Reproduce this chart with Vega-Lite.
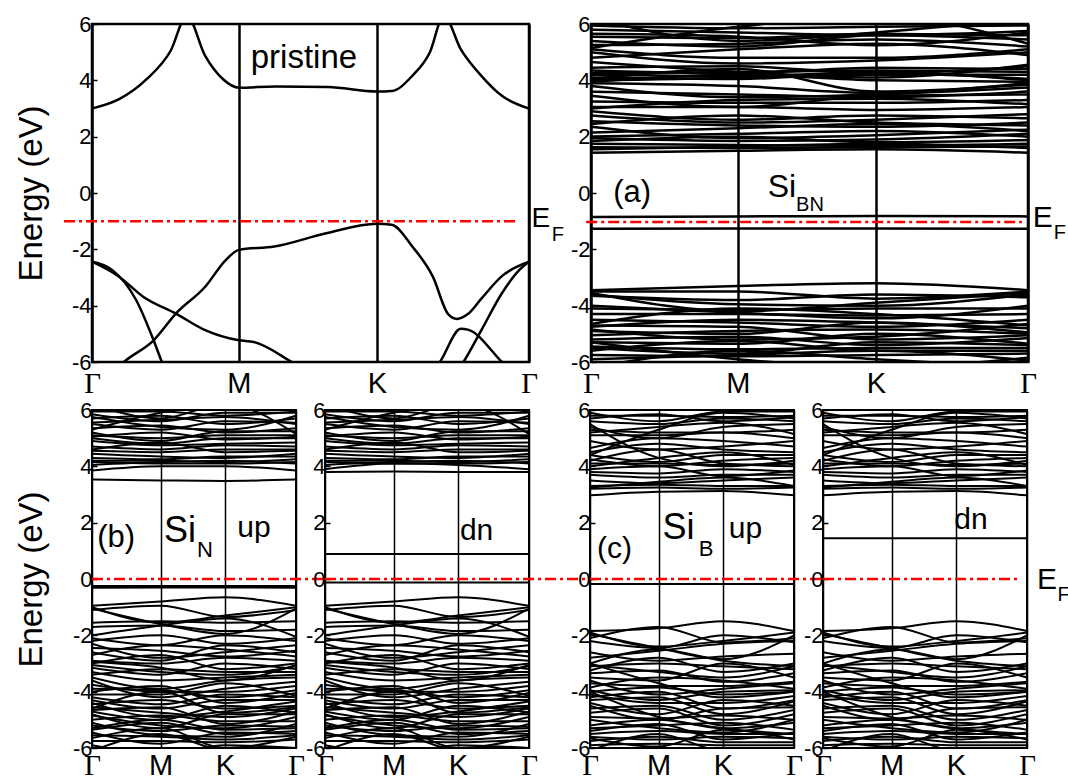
{
"$schema":"https://vega.github.io/schema/vega-lite/v6.json",
"background":"white",
"padding":{"left":14,"top":11,"right":0,"bottom":0},
"config":{"font":"Liberation Sans","view":{"stroke":"black","strokeWidth":2.5},"axis":{"labelFont":"Liberation Sans","titleFont":"Liberation Sans"}},
"datasets":{
"pr":[
{"b":"c","k":0,"e":3.0},{"b":"c","k":0.062,"e":3.33},{"b":"c","k":0.125,"e":4.04},{"b":"c","k":0.18,"e":5.05},{"b":"c","k":0.217,"e":6.3},{"b":"c","k":0.259,"e":4.87},{"b":"c","k":0.3,"e":4.04},{"b":"c","k":0.336,"e":3.74},{"b":"c","k":0.42,"e":3.78},{"b":"c","k":0.54,"e":3.76},{"b":"c","k":0.652,"e":3.6},{"b":"c","k":0.686,"e":3.62},{"b":"c","k":0.733,"e":4.16},{"b":"c","k":0.773,"e":4.99},{"b":"c","k":0.805,"e":6.3},{"b":"c","k":0.844,"e":5.1},{"b":"c","k":0.891,"e":4.16},{"b":"c","k":0.938,"e":3.45},{"b":"c","k":1,"e":3.0},
{"b":"v1","k":0,"e":-7.2},{"b":"v1","k":0.073,"e":-6},{"b":"v1","k":0.141,"e":-5.23},{"b":"v1","k":0.192,"e":-4.28},{"b":"v1","k":0.259,"e":-3.33},{"b":"v1","k":0.306,"e":-2.38},{"b":"v1","k":0.336,"e":-2.02},{"b":"v1","k":0.417,"e":-1.9},{"b":"v1","k":0.536,"e":-1.43},{"b":"v1","k":0.652,"e":-1.09},{"b":"v1","k":0.686,"e":-1.13},{"b":"v1","k":0.733,"e":-1.9},{"b":"v1","k":0.78,"e":-2.97},{"b":"v1","k":0.815,"e":-4.3},{"b":"v1","k":0.835,"e":-4.47},{"b":"v1","k":0.86,"e":-4.3},{"b":"v1","k":0.891,"e":-3.75},{"b":"v1","k":0.938,"e":-2.95},{"b":"v1","k":1,"e":-2.44},
{"b":"v2","k":0,"e":-2.44},{"b":"v2","k":0.062,"e":-2.97},{"b":"v2","k":0.117,"e":-3.68},{"b":"v2","k":0.192,"e":-4.28},{"b":"v2","k":0.259,"e":-4.87},{"b":"v2","k":0.336,"e":-5.23},{"b":"v2","k":0.37,"e":-5.29},{"b":"v2","k":0.457,"e":-6},{"b":"v2","k":0.52,"e":-6.6},
{"b":"v3","k":0,"e":-2.44},{"b":"v3","k":0.046,"e":-2.73},{"b":"v3","k":0.101,"e":-3.8},{"b":"v3","k":0.141,"e":-5.23},{"b":"v3","k":0.16,"e":-6},{"b":"v3","k":0.18,"e":-6.7},
{"b":"vB","k":0.75,"e":-6.8},{"b":"vB","k":0.796,"e":-6},{"b":"vB","k":0.844,"e":-4.82},{"b":"vB","k":0.86,"e":-4.85},{"b":"vB","k":0.938,"e":-6},{"b":"vB","k":0.97,"e":-6.5},
{"b":"vC","k":0.81,"e":-6.8},{"b":"vC","k":0.85,"e":-6},{"b":"vC","k":0.891,"e":-4.87},{"b":"vC","k":0.938,"e":-3.56},{"b":"vC","k":0.978,"e":-2.73},{"b":"vC","k":1,"e":-2.44}
],
"a":[
{"b":1,"k":0,"e":1.43},{"b":1,"k":0.336,"e":1.5},{"b":1,"k":0.652,"e":1.55},{"b":1,"k":1,"e":1.43},
{"b":2,"k":0,"e":1.62},{"b":2,"k":0.336,"e":1.6},{"b":2,"k":0.652,"e":1.62},{"b":2,"k":1,"e":1.65},
{"b":3,"k":0,"e":1.75},{"b":3,"k":0.336,"e":1.7},{"b":3,"k":0.652,"e":1.68},{"b":3,"k":1,"e":1.75},
{"b":4,"k":0,"e":1.85},{"b":4,"k":0.336,"e":2.0},{"b":4,"k":0.652,"e":1.8},{"b":4,"k":1,"e":1.88},
{"b":5,"k":0,"e":2.0},{"b":5,"k":0.336,"e":2.1},{"b":5,"k":0.652,"e":2.2},{"b":5,"k":1,"e":2.0},
{"b":6,"k":0,"e":2.35},{"b":6,"k":0.336,"e":1.95},{"b":6,"k":0.652,"e":2.05},{"b":6,"k":1,"e":2.25},
{"b":7,"k":0,"e":2.55},{"b":7,"k":0.336,"e":2.4},{"b":7,"k":0.652,"e":2.35},{"b":7,"k":1,"e":2.5},
{"b":8,"k":0,"e":2.75},{"b":8,"k":0.336,"e":2.5},{"b":8,"k":0.652,"e":2.6},{"b":8,"k":1,"e":2.8},
{"b":9,"k":0,"e":2.9},{"b":9,"k":0.336,"e":2.6},{"b":9,"k":0.652,"e":2.75},{"b":9,"k":1,"e":2.65},
{"b":10,"k":0,"e":3.05},{"b":10,"k":0.336,"e":3.05},{"b":10,"k":0.652,"e":2.95},{"b":10,"k":1,"e":3.05},
{"b":11,"k":0,"e":3.25},{"b":11,"k":0.336,"e":3.2},{"b":11,"k":0.652,"e":3.2},{"b":11,"k":1,"e":3.3},
{"b":12,"k":0,"e":3.45},{"b":12,"k":0.336,"e":3.05},{"b":12,"k":0.652,"e":3.45},{"b":12,"k":1,"e":3.5},
{"b":13,"k":0,"e":3.8},{"b":13,"k":0.336,"e":3.4},{"b":13,"k":0.652,"e":3.5},{"b":13,"k":1,"e":3.75},
{"b":14,"k":0,"e":3.9},{"b":14,"k":0.336,"e":3.8},{"b":14,"k":0.652,"e":3.55},{"b":14,"k":1,"e":3.9},
{"b":15,"k":0,"e":4.0},{"b":15,"k":0.336,"e":4.1},{"b":15,"k":0.652,"e":4.3},{"b":15,"k":1,"e":4.0},
{"b":16,"k":0,"e":4.1},{"b":16,"k":0.336,"e":4.05},{"b":16,"k":0.652,"e":4.25},{"b":16,"k":1,"e":4.05},
{"b":17,"k":0,"e":4.2},{"b":17,"k":0.336,"e":4.15},{"b":17,"k":0.652,"e":4.2},{"b":17,"k":1,"e":4.2},
{"b":18,"k":0,"e":4.35},{"b":18,"k":0.336,"e":4.25},{"b":18,"k":0.652,"e":4.45},{"b":18,"k":1,"e":4.4},
{"b":19,"k":0,"e":4.05},{"b":19,"k":0.336,"e":4.4},{"b":19,"k":0.652,"e":3.6},{"b":19,"k":1,"e":3.85},
{"b":20,"k":0,"e":4.65},{"b":20,"k":0.336,"e":4.3},{"b":20,"k":0.652,"e":4.1},{"b":20,"k":1,"e":4.55},
{"b":21,"k":0,"e":5.0},{"b":21,"k":0.336,"e":4.6},{"b":21,"k":0.652,"e":4.7},{"b":21,"k":1,"e":5.0},
{"b":22,"k":0,"e":5.1},{"b":22,"k":0.336,"e":4.8},{"b":22,"k":0.652,"e":4.8},{"b":22,"k":1,"e":5.1},
{"b":23,"k":0,"e":5.25},{"b":23,"k":0.336,"e":5.3},{"b":23,"k":0.652,"e":5.45},{"b":23,"k":1,"e":5.2},
{"b":24,"k":0,"e":5.4},{"b":24,"k":0.336,"e":5.2},{"b":24,"k":0.652,"e":5.6},{"b":24,"k":1,"e":5.45},
{"b":25,"k":0,"e":5.55},{"b":25,"k":0.336,"e":5.5},{"b":25,"k":0.652,"e":5.65},{"b":25,"k":1,"e":5.6},
{"b":26,"k":0,"e":5.8},{"b":26,"k":0.336,"e":5.7},{"b":26,"k":0.652,"e":5.6},{"b":26,"k":1,"e":5.75},
{"b":27,"k":0,"e":5.95},{"b":27,"k":0.336,"e":5.85},{"b":27,"k":0.652,"e":5.9},{"b":27,"k":1,"e":5.95},
{"b":28,"k":0,"e":5.15},{"b":28,"k":0.336,"e":5.9},{"b":28,"k":0.652,"e":6.3},{"b":28,"k":1,"e":5.3},
{"b":29,"k":0,"e":6.2},{"b":29,"k":0.336,"e":5.4},{"b":29,"k":0.652,"e":5.7},{"b":29,"k":1,"e":6.2},
{"b":30,"k":0,"e":-0.85},{"b":30,"k":0.336,"e":-0.83},{"b":30,"k":0.652,"e":-0.82},{"b":30,"k":1,"e":-0.83},
{"b":31,"k":0,"e":-1.27},{"b":31,"k":0.336,"e":-1.26},{"b":31,"k":0.652,"e":-1.26},{"b":31,"k":1,"e":-1.27},
{"b":32,"k":0,"e":-3.45},{"b":32,"k":0.336,"e":-3.3},{"b":32,"k":0.652,"e":-3.2},{"b":32,"k":1,"e":-3.45},
{"b":33,"k":0,"e":-3.5},{"b":33,"k":0.336,"e":-3.5},{"b":33,"k":0.652,"e":-3.75},{"b":33,"k":1,"e":-3.5},
{"b":34,"k":0,"e":-3.55},{"b":34,"k":0.336,"e":-4.2},{"b":34,"k":0.652,"e":-3.9},{"b":34,"k":1,"e":-3.55},
{"b":35,"k":0,"e":-3.6},{"b":35,"k":0.336,"e":-3.95},{"b":35,"k":0.652,"e":-4.0},{"b":35,"k":1,"e":-3.6},
{"b":36,"k":0,"e":-4.1},{"b":36,"k":0.336,"e":-4.15},{"b":36,"k":0.652,"e":-4.1},{"b":36,"k":1,"e":-4.1},
{"b":37,"k":0,"e":-4.3},{"b":37,"k":0.336,"e":-4.3},{"b":37,"k":0.652,"e":-4.35},{"b":37,"k":1,"e":-4.3},
{"b":38,"k":0,"e":-4.65},{"b":38,"k":0.336,"e":-4.1},{"b":38,"k":0.652,"e":-4.3},{"b":38,"k":1,"e":-4.7},
{"b":39,"k":0,"e":-4.75},{"b":39,"k":0.336,"e":-4.5},{"b":39,"k":0.652,"e":-4.6},{"b":39,"k":1,"e":-4.8},
{"b":40,"k":0,"e":-4.9},{"b":40,"k":0.336,"e":-5.0},{"b":40,"k":0.652,"e":-4.6},{"b":40,"k":1,"e":-4.95},
{"b":41,"k":0,"e":-4.85},{"b":41,"k":0.336,"e":-5.2},{"b":41,"k":0.652,"e":-5.1},{"b":41,"k":1,"e":-4.65},
{"b":42,"k":0,"e":-5.2},{"b":42,"k":0.336,"e":-5.1},{"b":42,"k":0.652,"e":-5.4},{"b":42,"k":1,"e":-5.15},
{"b":43,"k":0,"e":-5.3},{"b":43,"k":0.336,"e":-5.35},{"b":43,"k":0.652,"e":-5.0},{"b":43,"k":1,"e":-5.35},
{"b":44,"k":0,"e":-5.45},{"b":44,"k":0.336,"e":-5.55},{"b":44,"k":0.652,"e":-5.5},{"b":44,"k":1,"e":-5.5},
{"b":45,"k":0,"e":-5.6},{"b":45,"k":0.336,"e":-5.25},{"b":45,"k":0.652,"e":-5.6},{"b":45,"k":1,"e":-5.6},
{"b":46,"k":0,"e":-5.75},{"b":46,"k":0.336,"e":-5.8},{"b":46,"k":0.652,"e":-5.75},{"b":46,"k":1,"e":-5.7},
{"b":47,"k":0,"e":-5.3},{"b":47,"k":0.336,"e":-5.9},{"b":47,"k":0.652,"e":-6.2},{"b":47,"k":1,"e":-5.85},
{"b":48,"k":0,"e":-6.2},{"b":48,"k":0.336,"e":-5.6},{"b":48,"k":0.652,"e":-5.9},{"b":48,"k":1,"e":-6.2},
{"b":49,"k":0,"e":-4.7},{"b":49,"k":0.336,"e":-4.75},{"b":49,"k":0.652,"e":-5.2},{"b":49,"k":1,"e":-5.05},
{"b":50,"k":0,"e":1.55},{"b":50,"k":0.336,"e":1.65},{"b":50,"k":0.652,"e":1.75},{"b":50,"k":1,"e":1.6},
{"b":51,"k":0,"e":1.95},{"b":51,"k":0.336,"e":1.85},{"b":51,"k":0.652,"e":1.9},{"b":51,"k":1,"e":2.1},
{"b":52,"k":0,"e":2.15},{"b":52,"k":0.336,"e":2.3},{"b":52,"k":0.652,"e":2.45},{"b":52,"k":1,"e":2.2},
{"b":53,"k":0,"e":2.45},{"b":53,"k":0.336,"e":2.75},{"b":53,"k":0.652,"e":2.5},{"b":53,"k":1,"e":2.4},
{"b":54,"k":0,"e":3.0},{"b":54,"k":0.336,"e":3.3},{"b":54,"k":0.652,"e":3.35},{"b":54,"k":1,"e":3.15},
{"b":55,"k":0,"e":3.6},{"b":55,"k":0.336,"e":3.5},{"b":55,"k":0.652,"e":3.4},{"b":55,"k":1,"e":3.6},
{"b":56,"k":0,"e":3.95},{"b":56,"k":0.336,"e":4.2},{"b":56,"k":0.652,"e":4.0},{"b":56,"k":1,"e":3.95},
{"b":57,"k":0,"e":4.25},{"b":57,"k":0.336,"e":4.3},{"b":57,"k":0.652,"e":4.35},{"b":57,"k":1,"e":4.3},
{"b":58,"k":0,"e":4.45},{"b":58,"k":0.336,"e":4.5},{"b":58,"k":0.652,"e":4.25},{"b":58,"k":1,"e":4.5},
{"b":59,"k":0,"e":4.8},{"b":59,"k":0.336,"e":5.1},{"b":59,"k":0.652,"e":5.3},{"b":59,"k":1,"e":4.9},
{"b":60,"k":0,"e":5.65},{"b":60,"k":0.336,"e":5.55},{"b":60,"k":0.652,"e":5.25},{"b":60,"k":1,"e":5.7},
{"b":61,"k":0,"e":-3.65},{"b":61,"k":0.336,"e":-3.8},{"b":61,"k":0.652,"e":-3.6},{"b":61,"k":1,"e":-3.7},
{"b":62,"k":0,"e":-4.0},{"b":62,"k":0.336,"e":-4.25},{"b":62,"k":0.652,"e":-4.45},{"b":62,"k":1,"e":-4.0},
{"b":63,"k":0,"e":-4.5},{"b":63,"k":0.336,"e":-4.6},{"b":63,"k":0.652,"e":-4.75},{"b":63,"k":1,"e":-4.5},
{"b":64,"k":0,"e":-5.05},{"b":64,"k":0.336,"e":-4.9},{"b":64,"k":0.652,"e":-4.85},{"b":64,"k":1,"e":-5.0},
{"b":65,"k":0,"e":-5.5},{"b":65,"k":0.336,"e":-5.7},{"b":65,"k":0.652,"e":-5.3},{"b":65,"k":1,"e":-5.4},
{"b":66,"k":0,"e":-5.9},{"b":66,"k":0.336,"e":-5.75},{"b":66,"k":0.652,"e":-5.6},{"b":66,"k":1,"e":-5.95}
],
"bn":[
{"b":1,"k":0,"e":-0.95},{"b":1,"k":0.336,"e":-0.8},{"b":1,"k":0.652,"e":-0.65},{"b":1,"k":1,"e":-0.95},
{"b":2,"k":0,"e":-1.0},{"b":2,"k":0.336,"e":-1.55},{"b":2,"k":0.652,"e":-1.3},{"b":2,"k":1,"e":-1.0},
{"b":3,"k":0,"e":-1.05},{"b":3,"k":0.336,"e":-1.6},{"b":3,"k":0.652,"e":-1.95},{"b":3,"k":1,"e":-1.05},
{"b":4,"k":0,"e":-1.55},{"b":4,"k":0.336,"e":-1.5},{"b":4,"k":0.652,"e":-1.55},{"b":4,"k":1,"e":-1.5},
{"b":5,"k":0,"e":-1.7},{"b":5,"k":0.336,"e":-1.65},{"b":5,"k":0.652,"e":-1.85},{"b":5,"k":1,"e":-1.8},
{"b":6,"k":0,"e":-2.0},{"b":6,"k":0.336,"e":-1.65},{"b":6,"k":0.652,"e":-1.4},{"b":6,"k":1,"e":-2.05},
{"b":7,"k":0,"e":-2.1},{"b":7,"k":0.336,"e":-2.35},{"b":7,"k":0.652,"e":-2.0},{"b":7,"k":1,"e":-2.2},
{"b":8,"k":0,"e":-2.3},{"b":8,"k":0.336,"e":-2.8},{"b":8,"k":0.652,"e":-2.6},{"b":8,"k":1,"e":-2.35},
{"b":9,"k":0,"e":-2.7},{"b":9,"k":0.336,"e":-2.35},{"b":9,"k":0.652,"e":-2.5},{"b":9,"k":1,"e":-2.75},
{"b":10,"k":0,"e":-2.9},{"b":10,"k":0.336,"e":-3.0},{"b":10,"k":0.652,"e":-2.8},{"b":10,"k":1,"e":-2.9},
{"b":11,"k":0,"e":-3.0},{"b":11,"k":0.336,"e":-2.7},{"b":11,"k":0.652,"e":-3.2},{"b":11,"k":1,"e":-3.0},
{"b":12,"k":0,"e":-3.15},{"b":12,"k":0.336,"e":-3.4},{"b":12,"k":0.652,"e":-3.0},{"b":12,"k":1,"e":-3.2},
{"b":13,"k":0,"e":-3.3},{"b":13,"k":0.336,"e":-3.6},{"b":13,"k":0.652,"e":-3.5},{"b":13,"k":1,"e":-3.4},
{"b":14,"k":0,"e":-3.5},{"b":14,"k":0.336,"e":-3.9},{"b":14,"k":0.652,"e":-3.6},{"b":14,"k":1,"e":-3.5},
{"b":15,"k":0,"e":-3.75},{"b":15,"k":0.336,"e":-4.0},{"b":15,"k":0.652,"e":-4.0},{"b":15,"k":1,"e":-3.8},
{"b":16,"k":0,"e":-3.9},{"b":16,"k":0.336,"e":-3.95},{"b":16,"k":0.652,"e":-4.2},{"b":16,"k":1,"e":-3.95},
{"b":17,"k":0,"e":-4.1},{"b":17,"k":0.336,"e":-4.1},{"b":17,"k":0.652,"e":-3.7},{"b":17,"k":1,"e":-4.15},
{"b":18,"k":0,"e":-4.3},{"b":18,"k":0.336,"e":-4.6},{"b":18,"k":0.652,"e":-4.3},{"b":18,"k":1,"e":-4.3},
{"b":19,"k":0,"e":-4.45},{"b":19,"k":0.336,"e":-4.3},{"b":19,"k":0.652,"e":-4.6},{"b":19,"k":1,"e":-4.5},
{"b":20,"k":0,"e":-4.55},{"b":20,"k":0.336,"e":-4.75},{"b":20,"k":0.652,"e":-4.9},{"b":20,"k":1,"e":-4.6},
{"b":21,"k":0,"e":-4.7},{"b":21,"k":0.336,"e":-5.0},{"b":21,"k":0.652,"e":-4.5},{"b":21,"k":1,"e":-4.75},
{"b":22,"k":0,"e":-4.85},{"b":22,"k":0.336,"e":-5.2},{"b":22,"k":0.652,"e":-5.3},{"b":22,"k":1,"e":-4.9},
{"b":23,"k":0,"e":-5.0},{"b":23,"k":0.336,"e":-4.85},{"b":23,"k":0.652,"e":-5.05},{"b":23,"k":1,"e":-5.05},
{"b":24,"k":0,"e":-5.2},{"b":24,"k":0.336,"e":-5.4},{"b":24,"k":0.652,"e":-5.2},{"b":24,"k":1,"e":-5.25},
{"b":25,"k":0,"e":-5.35},{"b":25,"k":0.336,"e":-5.1},{"b":25,"k":0.652,"e":-5.5},{"b":25,"k":1,"e":-5.4},
{"b":26,"k":0,"e":-5.55},{"b":26,"k":0.336,"e":-5.6},{"b":26,"k":0.652,"e":-5.7},{"b":26,"k":1,"e":-5.55},
{"b":27,"k":0,"e":-5.75},{"b":27,"k":0.336,"e":-5.75},{"b":27,"k":0.652,"e":-5.8},{"b":27,"k":1,"e":-5.7},
{"b":28,"k":0,"e":-5.9},{"b":28,"k":0.336,"e":-6.2},{"b":28,"k":0.652,"e":-5.9},{"b":28,"k":1,"e":-6.0},
{"b":29,"k":0,"e":-6.1},{"b":29,"k":0.336,"e":-5.5},{"b":29,"k":0.652,"e":-6.1},{"b":29,"k":1,"e":-6.2},
{"b":30,"k":0,"e":-2.45},{"b":30,"k":0.336,"e":-2.55},{"b":30,"k":0.652,"e":-2.75},{"b":30,"k":1,"e":-2.55},
{"b":31,"k":0,"e":-3.05},{"b":31,"k":0.336,"e":-3.3},{"b":31,"k":0.652,"e":-3.4},{"b":31,"k":1,"e":-3.1},
{"b":32,"k":0,"e":-4.6},{"b":32,"k":0.336,"e":-4.0},{"b":32,"k":0.652,"e":-4.75},{"b":32,"k":1,"e":-4.55},
{"b":33,"k":0,"e":4.15},{"b":33,"k":0.336,"e":4.1},{"b":33,"k":0.652,"e":4.1},{"b":33,"k":1,"e":4.15},
{"b":34,"k":0,"e":4.2},{"b":34,"k":0.336,"e":4.2},{"b":34,"k":0.652,"e":4.15},{"b":34,"k":1,"e":4.25},
{"b":35,"k":0,"e":4.3},{"b":35,"k":0.336,"e":4.25},{"b":35,"k":0.652,"e":4.35},{"b":35,"k":1,"e":4.35},
{"b":36,"k":0,"e":4.45},{"b":36,"k":0.336,"e":4.35},{"b":36,"k":0.652,"e":4.3},{"b":36,"k":1,"e":4.45},
{"b":37,"k":0,"e":4.55},{"b":37,"k":0.336,"e":4.5},{"b":37,"k":0.652,"e":4.6},{"b":37,"k":1,"e":4.6},
{"b":38,"k":0,"e":4.7},{"b":38,"k":0.336,"e":4.6},{"b":38,"k":0.652,"e":4.75},{"b":38,"k":1,"e":4.7},
{"b":39,"k":0,"e":4.9},{"b":39,"k":0.336,"e":4.75},{"b":39,"k":0.652,"e":4.8},{"b":39,"k":1,"e":4.85},
{"b":40,"k":0,"e":5.0},{"b":40,"k":0.336,"e":4.8},{"b":40,"k":0.652,"e":5.0},{"b":40,"k":1,"e":5.0},
{"b":41,"k":0,"e":5.1},{"b":41,"k":0.336,"e":5.0},{"b":41,"k":0.652,"e":5.1},{"b":41,"k":1,"e":5.1},
{"b":42,"k":0,"e":5.2},{"b":42,"k":0.336,"e":4.9},{"b":42,"k":0.652,"e":5.25},{"b":42,"k":1,"e":5.25},
{"b":43,"k":0,"e":5.35},{"b":43,"k":0.336,"e":5.45},{"b":43,"k":0.652,"e":5.2},{"b":43,"k":1,"e":5.35},
{"b":44,"k":0,"e":5.5},{"b":44,"k":0.336,"e":5.3},{"b":44,"k":0.652,"e":5.6},{"b":44,"k":1,"e":5.55},
{"b":45,"k":0,"e":5.7},{"b":45,"k":0.336,"e":5.8},{"b":45,"k":0.652,"e":5.5},{"b":45,"k":1,"e":5.7},
{"b":46,"k":0,"e":5.85},{"b":46,"k":0.336,"e":5.6},{"b":46,"k":0.652,"e":5.9},{"b":46,"k":1,"e":5.9},
{"b":47,"k":0,"e":5.95},{"b":47,"k":0.336,"e":5.95},{"b":47,"k":0.652,"e":5.8},{"b":47,"k":1,"e":5.95},
{"b":48,"k":0,"e":6.2},{"b":48,"k":0.336,"e":5.7},{"b":48,"k":0.652,"e":6.2},{"b":48,"k":1,"e":6.1},
{"b":49,"k":0,"e":5.3},{"b":49,"k":0.336,"e":5.9},{"b":49,"k":0.652,"e":6.2},{"b":49,"k":1,"e":5.15},
{"b":50,"k":0,"e":-1.1},{"b":50,"k":0.336,"e":-0.95},{"b":50,"k":0.652,"e":-1.35},{"b":50,"k":1,"e":-1.1},
{"b":51,"k":0,"e":-2.2},{"b":51,"k":0.336,"e":-2.0},{"b":51,"k":0.652,"e":-2.3},{"b":51,"k":1,"e":-2.1},
{"b":52,"k":0,"e":-2.6},{"b":52,"k":0.336,"e":-2.9},{"b":52,"k":0.652,"e":-2.35},{"b":52,"k":1,"e":-2.6},
{"b":53,"k":0,"e":-2.95},{"b":53,"k":0.336,"e":-3.15},{"b":53,"k":0.652,"e":-3.6},{"b":53,"k":1,"e":-3.05},
{"b":54,"k":0,"e":-3.4},{"b":54,"k":0.336,"e":-3.2},{"b":54,"k":0.652,"e":-3.3},{"b":54,"k":1,"e":-3.3},
{"b":55,"k":0,"e":-3.6},{"b":55,"k":0.336,"e":-4.2},{"b":55,"k":0.652,"e":-3.9},{"b":55,"k":1,"e":-3.65},
{"b":56,"k":0,"e":-4.0},{"b":56,"k":0.336,"e":-3.8},{"b":56,"k":0.652,"e":-4.4},{"b":56,"k":1,"e":-4.05},
{"b":57,"k":0,"e":-4.2},{"b":57,"k":0.336,"e":-4.45},{"b":57,"k":0.652,"e":-4.1},{"b":57,"k":1,"e":-4.2},
{"b":58,"k":0,"e":-4.4},{"b":58,"k":0.336,"e":-4.9},{"b":58,"k":0.652,"e":-4.7},{"b":58,"k":1,"e":-4.35},
{"b":59,"k":0,"e":-4.65},{"b":59,"k":0.336,"e":-4.55},{"b":59,"k":0.652,"e":-5.15},{"b":59,"k":1,"e":-4.7},
{"b":60,"k":0,"e":-4.8},{"b":60,"k":0.336,"e":-5.3},{"b":60,"k":0.652,"e":-4.8},{"b":60,"k":1,"e":-4.8},
{"b":61,"k":0,"e":-5.1},{"b":61,"k":0.336,"e":-5.55},{"b":61,"k":0.652,"e":-5.6},{"b":61,"k":1,"e":-5.15},
{"b":62,"k":0,"e":-5.3},{"b":62,"k":0.336,"e":-5.0},{"b":62,"k":0.652,"e":-5.35},{"b":62,"k":1,"e":-5.3},
{"b":63,"k":0,"e":-5.45},{"b":63,"k":0.336,"e":-5.85},{"b":63,"k":0.652,"e":-5.45},{"b":63,"k":1,"e":-5.5},
{"b":64,"k":0,"e":-5.65},{"b":64,"k":0.336,"e":-5.3},{"b":64,"k":0.652,"e":-6.0},{"b":64,"k":1,"e":-5.6},
{"b":65,"k":0,"e":4.05},{"b":65,"k":0.336,"e":4.15},{"b":65,"k":0.652,"e":4.2},{"b":65,"k":1,"e":4.1},
{"b":66,"k":0,"e":4.6},{"b":66,"k":0.336,"e":4.85},{"b":66,"k":0.652,"e":4.5},{"b":66,"k":1,"e":4.55},
{"b":67,"k":0,"e":5.05},{"b":67,"k":0.336,"e":5.2},{"b":67,"k":0.652,"e":4.95},{"b":67,"k":1,"e":5.05},
{"b":68,"k":0,"e":5.55},{"b":68,"k":0.336,"e":5.65},{"b":68,"k":0.652,"e":5.75},{"b":68,"k":1,"e":5.5},
{"b":69,"k":0,"e":5.75},{"b":69,"k":0.336,"e":5.4},{"b":69,"k":0.652,"e":5.3},{"b":69,"k":1,"e":5.8}
],
"bu":[
{"b":1,"k":0,"e":-0.25},{"b":1,"k":0.336,"e":-0.25},{"b":1,"k":0.652,"e":-0.25},{"b":1,"k":1,"e":-0.25},
{"b":2,"k":0,"e":-0.31},{"b":2,"k":0.336,"e":-0.3},{"b":2,"k":0.652,"e":-0.3},{"b":2,"k":1,"e":-0.31},
{"b":3,"k":0,"e":3.53},{"b":3,"k":0.336,"e":3.5},{"b":3,"k":0.652,"e":3.48},{"b":3,"k":1,"e":3.53},
{"b":4,"k":0,"e":3.85},{"b":4,"k":0.336,"e":4.0},{"b":4,"k":0.652,"e":4.0},{"b":4,"k":1,"e":3.85}
],
"bd":[
{"b":1,"k":0,"e":0.89},{"b":1,"k":0.336,"e":0.89},{"b":1,"k":0.652,"e":0.89},{"b":1,"k":1,"e":0.89},
{"b":2,"k":0,"e":-0.12},{"b":2,"k":0.336,"e":-0.12},{"b":2,"k":0.652,"e":-0.12},{"b":2,"k":1,"e":-0.12},
{"b":3,"k":0,"e":3.8},{"b":3,"k":0.336,"e":3.82},{"b":3,"k":0.652,"e":3.8},{"b":3,"k":1,"e":3.8},
{"b":4,"k":0,"e":3.9},{"b":4,"k":0.336,"e":4.1},{"b":4,"k":0.652,"e":4.05},{"b":4,"k":1,"e":3.9}
],
"cn":[
{"b":1,"k":0,"e":-1.85},{"b":1,"k":0.336,"e":-1.75},{"b":1,"k":0.652,"e":-1.5},{"b":1,"k":1,"e":-1.85},
{"b":2,"k":0,"e":-1.9},{"b":2,"k":0.336,"e":-2.4},{"b":2,"k":0.652,"e":-2.2},{"b":2,"k":1,"e":-1.9},
{"b":3,"k":0,"e":-1.95},{"b":3,"k":0.336,"e":-2.45},{"b":3,"k":0.652,"e":-2.85},{"b":3,"k":1,"e":-2.0},
{"b":4,"k":0,"e":-2.1},{"b":4,"k":0.336,"e":-1.7},{"b":4,"k":0.652,"e":-2.25},{"b":4,"k":1,"e":-2.1},
{"b":5,"k":0,"e":-2.8},{"b":5,"k":0.336,"e":-2.55},{"b":5,"k":0.652,"e":-2.3},{"b":5,"k":1,"e":-2.2},
{"b":6,"k":0,"e":-3.0},{"b":6,"k":0.336,"e":-2.5},{"b":6,"k":0.652,"e":-2.9},{"b":6,"k":1,"e":-3.1},
{"b":7,"k":0,"e":-3.1},{"b":7,"k":0.336,"e":-3.0},{"b":7,"k":0.652,"e":-3.1},{"b":7,"k":1,"e":-3.2},
{"b":8,"k":0,"e":-3.25},{"b":8,"k":0.336,"e":-2.8},{"b":8,"k":0.652,"e":-3.3},{"b":8,"k":1,"e":-3.0},
{"b":9,"k":0,"e":-3.5},{"b":9,"k":0.336,"e":-3.6},{"b":9,"k":0.652,"e":-3.0},{"b":9,"k":1,"e":-3.5},
{"b":10,"k":0,"e":-3.7},{"b":10,"k":0.336,"e":-3.8},{"b":10,"k":0.652,"e":-3.8},{"b":10,"k":1,"e":-3.65},
{"b":11,"k":0,"e":-3.85},{"b":11,"k":0.336,"e":-3.5},{"b":11,"k":0.652,"e":-3.6},{"b":11,"k":1,"e":-3.9},
{"b":12,"k":0,"e":-4.0},{"b":12,"k":0.336,"e":-3.85},{"b":12,"k":0.652,"e":-4.1},{"b":12,"k":1,"e":-4.0},
{"b":13,"k":0,"e":-4.1},{"b":13,"k":0.336,"e":-4.4},{"b":13,"k":0.652,"e":-4.4},{"b":13,"k":1,"e":-4.15},
{"b":14,"k":0,"e":-4.2},{"b":14,"k":0.336,"e":-4.0},{"b":14,"k":0.652,"e":-4.6},{"b":14,"k":1,"e":-4.3},
{"b":15,"k":0,"e":-4.4},{"b":15,"k":0.336,"e":-4.8},{"b":15,"k":0.652,"e":-4.3},{"b":15,"k":1,"e":-4.5},
{"b":16,"k":0,"e":-4.6},{"b":16,"k":0.336,"e":-4.5},{"b":16,"k":0.652,"e":-5.0},{"b":16,"k":1,"e":-4.65},
{"b":17,"k":0,"e":-4.9},{"b":17,"k":0.336,"e":-4.95},{"b":17,"k":0.652,"e":-4.85},{"b":17,"k":1,"e":-5.0},
{"b":18,"k":0,"e":-5.2},{"b":18,"k":0.336,"e":-5.0},{"b":18,"k":0.652,"e":-5.3},{"b":18,"k":1,"e":-5.1},
{"b":19,"k":0,"e":-5.3},{"b":19,"k":0.336,"e":-5.2},{"b":19,"k":0.652,"e":-5.1},{"b":19,"k":1,"e":-5.35},
{"b":20,"k":0,"e":-5.5},{"b":20,"k":0.336,"e":-5.4},{"b":20,"k":0.652,"e":-5.5},{"b":20,"k":1,"e":-5.5},
{"b":21,"k":0,"e":-5.6},{"b":21,"k":0.336,"e":-5.7},{"b":21,"k":0.652,"e":-5.6},{"b":21,"k":1,"e":-5.65},
{"b":22,"k":0,"e":-5.75},{"b":22,"k":0.336,"e":-5.6},{"b":22,"k":0.652,"e":-5.8},{"b":22,"k":1,"e":-5.8},
{"b":23,"k":0,"e":-5.9},{"b":23,"k":0.336,"e":-5.85},{"b":23,"k":0.652,"e":-5.9},{"b":23,"k":1,"e":-5.9},
{"b":24,"k":0,"e":-6.1},{"b":24,"k":0.336,"e":-5.5},{"b":24,"k":0.652,"e":-6.1},{"b":24,"k":1,"e":-6.0},
{"b":25,"k":0,"e":-4.0},{"b":25,"k":0.336,"e":-4.9},{"b":25,"k":0.652,"e":-5.3},{"b":25,"k":1,"e":-5.5},
{"b":26,"k":0,"e":-3.0},{"b":26,"k":0.336,"e":-3.7},{"b":26,"k":0.652,"e":-4.2},{"b":26,"k":1,"e":-4.0},
{"b":27,"k":0,"e":2.97},{"b":27,"k":0.336,"e":3.1},{"b":27,"k":0.652,"e":3.12},{"b":27,"k":1,"e":2.97},
{"b":28,"k":0,"e":3.2},{"b":28,"k":0.336,"e":3.25},{"b":28,"k":0.652,"e":3.2},{"b":28,"k":1,"e":3.25},
{"b":29,"k":0,"e":3.3},{"b":29,"k":0.336,"e":3.35},{"b":29,"k":0.652,"e":3.3},{"b":29,"k":1,"e":3.3},
{"b":30,"k":0,"e":3.5},{"b":30,"k":0.336,"e":3.4},{"b":30,"k":0.652,"e":3.5},{"b":30,"k":1,"e":3.6},
{"b":31,"k":0,"e":3.7},{"b":31,"k":0.336,"e":3.6},{"b":31,"k":0.652,"e":3.7},{"b":31,"k":1,"e":3.7},
{"b":32,"k":0,"e":3.9},{"b":32,"k":0.336,"e":4.0},{"b":32,"k":0.652,"e":3.65},{"b":32,"k":1,"e":3.85},
{"b":33,"k":0,"e":4.1},{"b":33,"k":0.336,"e":4.1},{"b":33,"k":0.652,"e":4.05},{"b":33,"k":1,"e":4.1},
{"b":34,"k":0,"e":4.25},{"b":34,"k":0.336,"e":4.0},{"b":34,"k":0.652,"e":4.2},{"b":34,"k":1,"e":4.3},
{"b":35,"k":0,"e":4.4},{"b":35,"k":0.336,"e":4.15},{"b":35,"k":0.652,"e":4.4},{"b":35,"k":1,"e":4.4},
{"b":36,"k":0,"e":4.2},{"b":36,"k":0.336,"e":4.6},{"b":36,"k":0.652,"e":4.1},{"b":36,"k":1,"e":4.0},
{"b":37,"k":0,"e":4.5},{"b":37,"k":0.336,"e":4.8},{"b":37,"k":0.652,"e":4.6},{"b":37,"k":1,"e":4.5},
{"b":38,"k":0,"e":4.9},{"b":38,"k":0.336,"e":4.6},{"b":38,"k":0.652,"e":4.7},{"b":38,"k":1,"e":4.9},
{"b":39,"k":0,"e":5.1},{"b":39,"k":0.336,"e":5.1},{"b":39,"k":0.652,"e":5.2},{"b":39,"k":1,"e":5.0},
{"b":40,"k":0,"e":5.3},{"b":40,"k":0.336,"e":5.2},{"b":40,"k":0.652,"e":5.2},{"b":40,"k":1,"e":5.3},
{"b":41,"k":0,"e":5.4},{"b":41,"k":0.336,"e":5.0},{"b":41,"k":0.652,"e":5.4},{"b":41,"k":1,"e":5.5},
{"b":42,"k":0,"e":5.6},{"b":42,"k":0.336,"e":5.5},{"b":42,"k":0.652,"e":5.7},{"b":42,"k":1,"e":5.6},
{"b":43,"k":0,"e":5.8},{"b":43,"k":0.336,"e":5.8},{"b":43,"k":0.652,"e":5.75},{"b":43,"k":1,"e":5.8},
{"b":44,"k":0,"e":5.9},{"b":44,"k":0.336,"e":5.6},{"b":44,"k":0.652,"e":5.95},{"b":44,"k":1,"e":5.95},
{"b":45,"k":0,"e":4.4},{"b":45,"k":0.336,"e":5.3},{"b":45,"k":0.652,"e":5.9},{"b":45,"k":1,"e":5.7},
{"b":46,"k":0,"e":5.5},{"b":46,"k":0.336,"e":4.3},{"b":46,"k":0.652,"e":4.0},{"b":46,"k":1,"e":4.2},
{"b":47,"k":0,"e":-2.2},{"b":47,"k":0.336,"e":-2.45},{"b":47,"k":0.652,"e":-2.0},{"b":47,"k":1,"e":-2.25},
{"b":48,"k":0,"e":-2.6},{"b":48,"k":0.336,"e":-2.9},{"b":48,"k":0.652,"e":-2.75},{"b":48,"k":1,"e":-2.65},
{"b":49,"k":0,"e":-3.05},{"b":49,"k":0.336,"e":-3.3},{"b":49,"k":0.652,"e":-3.5},{"b":49,"k":1,"e":-3.1},
{"b":50,"k":0,"e":-3.35},{"b":50,"k":0.336,"e":-3.25},{"b":50,"k":0.652,"e":-3.65},{"b":50,"k":1,"e":-3.35},
{"b":51,"k":0,"e":-3.6},{"b":51,"k":0.336,"e":-4.1},{"b":51,"k":0.652,"e":-3.9},{"b":51,"k":1,"e":-3.7},
{"b":52,"k":0,"e":-3.95},{"b":52,"k":0.336,"e":-4.3},{"b":52,"k":0.652,"e":-4.0},{"b":52,"k":1,"e":-3.95},
{"b":53,"k":0,"e":-4.3},{"b":53,"k":0.336,"e":-4.2},{"b":53,"k":0.652,"e":-4.8},{"b":53,"k":1,"e":-4.35},
{"b":54,"k":0,"e":-4.5},{"b":54,"k":0.336,"e":-5.0},{"b":54,"k":0.652,"e":-4.6},{"b":54,"k":1,"e":-4.55},
{"b":55,"k":0,"e":-4.75},{"b":55,"k":0.336,"e":-4.6},{"b":55,"k":0.652,"e":-5.2},{"b":55,"k":1,"e":-4.8},
{"b":56,"k":0,"e":-5.0},{"b":56,"k":0.336,"e":-5.3},{"b":56,"k":0.652,"e":-5.45},{"b":56,"k":1,"e":-5.0},
{"b":57,"k":0,"e":-5.4},{"b":57,"k":0.336,"e":-5.15},{"b":57,"k":0.652,"e":-5.7},{"b":57,"k":1,"e":-5.45},
{"b":58,"k":0,"e":-5.65},{"b":58,"k":0.336,"e":-5.95},{"b":58,"k":0.652,"e":-5.35},{"b":58,"k":1,"e":-5.7},
{"b":59,"k":0,"e":3.25},{"b":59,"k":0.336,"e":3.45},{"b":59,"k":0.652,"e":3.6},{"b":59,"k":1,"e":3.3},
{"b":60,"k":0,"e":3.8},{"b":60,"k":0.336,"e":3.75},{"b":60,"k":0.652,"e":3.9},{"b":60,"k":1,"e":3.8},
{"b":61,"k":0,"e":4.0},{"b":61,"k":0.336,"e":4.3},{"b":61,"k":0.652,"e":4.5},{"b":61,"k":1,"e":4.05},
{"b":62,"k":0,"e":4.65},{"b":62,"k":0.336,"e":5.0},{"b":62,"k":0.652,"e":4.9},{"b":62,"k":1,"e":4.7},
{"b":63,"k":0,"e":5.2},{"b":63,"k":0.336,"e":5.4},{"b":63,"k":0.652,"e":5.55},{"b":63,"k":1,"e":5.15},
{"b":64,"k":0,"e":5.7},{"b":64,"k":0.336,"e":5.85},{"b":64,"k":0.652,"e":5.6},{"b":64,"k":1,"e":5.75}
],
"cu":[
{"b":1,"k":0,"e":-0.18},{"b":1,"k":0.336,"e":-0.18},{"b":1,"k":0.652,"e":-0.18},{"b":1,"k":1,"e":-0.18}
],
"cd":[
{"b":1,"k":0,"e":1.45},{"b":1,"k":0.336,"e":1.45},{"b":1,"k":0.652,"e":1.45},{"b":1,"k":1,"e":1.45}
]
},
"spacing":-2,
"vconcat":[
{"bounds":"flush","spacing":62,"hconcat":[
{"width":437,"height":338,"view":{"stroke":"black","strokeWidth":2.5},"layer":[
{"data":{"name":"pr"},"mark":{"type":"line","interpolate":"monotone","color":"black","strokeWidth":2.5,"clip":true},
"encoding":{"x":{"field":"k","type":"quantitative","scale":{"domain":[0,1],"nice":false},"axis":{"values":[0,0.336,0.652,1],"labelExpr":"datum.value==0||datum.value==1?'Γ':datum.value<0.5?'M':'K'","labelFont":{"condition":{"test":"datum.value==0||datum.value==1","value":"Liberation Serif"},"value":"Liberation Sans"},"labelFontSize":29,"labelColor":"black","labelPadding":7,"labelFlush":false,"labelOverlap":false,"ticks":false,"domain":false,"grid":true,"gridColor":"black","gridWidth":2.5,"gridOpacity":1,"title":null}},
"y":{"field":"e","type":"quantitative","scale":{"domain":[-6,6],"nice":false},"axis":{"values":[-6,-5,-4,-3,-2,-1,0,1,2,3,4,5,6],"labelExpr":"datum.value%2==0?(datum.value<0?'-'+abs(datum.value):''+datum.value):''","labelFontSize":22,"labelColor":"black","labelPadding":6,"labelOverlap":false,"tickSize":-5,"tickColor":"black","tickWidth":1.5,"domain":false,"grid":false,"title":"Energy (eV)","titleFontSize":33,"titleFontWeight":"normal","titleColor":"black","titlePadding":23}},
"detail":{"field":"b"}}},
{"data":{"values":[{}]},"mark":{"type":"rule","color":"#ff0000","strokeWidth":2.5,"strokeDash":[11,4,3,4],"clip":false},"encoding":{"x":{"datum":-0.064},"x2":{"datum":0.97},"y":{"datum":-1}}},
{"data":{"values":[{}]},"mark":{"type":"text","text":"pristine","fontSize":33,"font":"Liberation Sans","align":"center","baseline":"alphabetic","clip":false},"encoding":{"x":{"datum":0.485},"y":{"datum":4.45}}},
{"data":{"values":[{}]},"mark":{"type":"text","text":"E","fontSize":28,"font":"Liberation Sans","align":"center","baseline":"middle","clip":false},"encoding":{"x":{"datum":1.027},"y":{"datum":-0.92}}},
{"data":{"values":[{}]},"mark":{"type":"text","text":"F","fontSize":20,"font":"Liberation Sans","align":"center","baseline":"middle","clip":false},"encoding":{"x":{"datum":1.066},"y":{"datum":-1.49}}}
]},
{"width":437,"height":338,"view":{"stroke":"black","strokeWidth":2.5},"layer":[
{"data":{"name":"a"},"mark":{"type":"line","interpolate":"monotone","color":"black","strokeWidth":2.5,"clip":true},
"encoding":{"x":{"field":"k","type":"quantitative","scale":{"domain":[0,1],"nice":false},"axis":{"values":[0,0.336,0.652,1],"labelExpr":"datum.value==0||datum.value==1?'Γ':datum.value<0.5?'M':'K'","labelFont":{"condition":{"test":"datum.value==0||datum.value==1","value":"Liberation Serif"},"value":"Liberation Sans"},"labelFontSize":29,"labelColor":"black","labelPadding":7,"labelFlush":false,"labelOverlap":false,"ticks":false,"domain":false,"grid":true,"gridColor":"black","gridWidth":2.5,"gridOpacity":1,"title":null}},
"y":{"field":"e","type":"quantitative","scale":{"domain":[-6,6],"nice":false},"axis":{"values":[-6,-5,-4,-3,-2,-1,0,1,2,3,4,5,6],"labelExpr":"datum.value%2==0?(datum.value<0?'-'+abs(datum.value):''+datum.value):''","labelFontSize":22,"labelColor":"black","labelPadding":6,"labelOverlap":false,"tickSize":-5,"tickColor":"black","tickWidth":1.5,"domain":false,"grid":false,"title":null}},
"detail":{"field":"b"}}},
{"data":{"values":[{}]},"mark":{"type":"rule","color":"#ff0000","strokeWidth":2.5,"strokeDash":[11,4,3,4],"clip":false},"encoding":{"x":{"datum":-0.011},"x2":{"datum":0.986},"y":{"datum":-1.03}}},
{"data":{"values":[{}]},"mark":{"type":"text","text":"(a)","fontSize":31,"font":"Liberation Sans","align":"center","baseline":"middle","clip":false},"encoding":{"x":{"datum":0.094},"y":{"datum":0.0}}},
{"data":{"values":[{}]},"mark":{"type":"text","text":"Si","fontSize":32,"font":"Liberation Sans","align":"center","baseline":"middle","clip":false},"encoding":{"x":{"datum":0.437},"y":{"datum":0.21}}},
{"data":{"values":[{}]},"mark":{"type":"text","text":"BN","fontSize":20,"font":"Liberation Sans","align":"center","baseline":"middle","clip":false},"encoding":{"x":{"datum":0.501},"y":{"datum":-0.42}}},
{"data":{"values":[{}]},"mark":{"type":"text","text":"E","fontSize":30,"font":"Liberation Sans","align":"center","baseline":"middle","clip":false},"encoding":{"x":{"datum":1.034},"y":{"datum":-0.89}}},
{"data":{"values":[{}]},"mark":{"type":"text","text":"F","fontSize":20,"font":"Liberation Sans","align":"center","baseline":"middle","clip":false},"encoding":{"x":{"datum":1.073},"y":{"datum":-1.43}}}
]}
]},
{"bounds":"flush","spacing":29,"hconcat":[
{"width":204,"height":338,"view":{"stroke":"black","strokeWidth":2},"layer":[
{"data":{"name":"bn"},"mark":{"type":"line","interpolate":"monotone","color":"black","strokeWidth":2,"clip":true},
"encoding":{"x":{"field":"k","type":"quantitative","scale":{"domain":[0,1],"nice":false},"axis":{"values":[0,0.336,0.652,1],"labelExpr":"datum.value==0||datum.value==1?'Γ':datum.value<0.5?'M':'K'","labelFont":{"condition":{"test":"datum.value==0||datum.value==1","value":"Liberation Serif"},"value":"Liberation Sans"},"labelFontSize":29,"labelColor":"black","labelPadding":3,"labelFlush":false,"labelOverlap":false,"ticks":false,"domain":false,"grid":true,"gridColor":"black","gridWidth":1.5,"gridOpacity":1,"title":null}},
"y":{"field":"e","type":"quantitative","scale":{"domain":[-6,6],"nice":false},"axis":{"values":[-6,-5,-4,-3,-2,-1,0,1,2,3,4,5,6],"labelExpr":"datum.value%2==0?(datum.value<0?'-'+abs(datum.value):''+datum.value):''","labelFontSize":22,"labelColor":"black","labelPadding":5,"labelOverlap":false,"tickSize":-5,"tickColor":"black","tickWidth":1.5,"domain":false,"grid":false,"title":"Energy (eV)","titleFontSize":33,"titleFontWeight":"normal","titleColor":"black","titlePadding":24}},
"detail":{"field":"b"}}},
{"data":{"name":"bu"},"mark":{"type":"line","interpolate":"monotone","color":"black","strokeWidth":2,"clip":true},"encoding":{"x":{"field":"k","type":"quantitative"},"y":{"field":"e","type":"quantitative"},"detail":{"field":"b"}}},
{"data":{"values":[{}]},"mark":{"type":"rule","color":"#ff0000","strokeWidth":2.5,"strokeDash":[11,4,3,4],"clip":false},"encoding":{"x":{"datum":0},"x2":{"datum":1.15},"y":{"datum":0}}},
{"data":{"values":[{}]},"mark":{"type":"text","text":"(b)","fontSize":31,"font":"Liberation Sans","align":"center","baseline":"alphabetic","clip":false},"encoding":{"x":{"datum":0.118},"y":{"datum":1.14}}},
{"data":{"values":[{}]},"mark":{"type":"text","text":"Si","fontSize":36,"font":"Liberation Sans","align":"center","baseline":"alphabetic","clip":false},"encoding":{"x":{"datum":0.431},"y":{"datum":1.31}}},
{"data":{"values":[{}]},"mark":{"type":"text","text":"N","fontSize":22,"font":"Liberation Sans","align":"center","baseline":"alphabetic","clip":false},"encoding":{"x":{"datum":0.554},"y":{"datum":0.78}}},
{"data":{"values":[{}]},"mark":{"type":"text","text":"up","fontSize":30,"font":"Liberation Sans","align":"center","baseline":"alphabetic","clip":false},"encoding":{"x":{"datum":0.794},"y":{"datum":1.49}}}
]},
{"width":204,"height":338,"view":{"stroke":"black","strokeWidth":2},"layer":[
{"data":{"name":"bn"},"mark":{"type":"line","interpolate":"monotone","color":"black","strokeWidth":2,"clip":true},
"encoding":{"x":{"field":"k","type":"quantitative","scale":{"domain":[0,1],"nice":false},"axis":{"values":[0,0.336,0.652,1],"labelExpr":"datum.value==0||datum.value==1?'Γ':datum.value<0.5?'M':'K'","labelFont":{"condition":{"test":"datum.value==0||datum.value==1","value":"Liberation Serif"},"value":"Liberation Sans"},"labelFontSize":29,"labelColor":"black","labelPadding":3,"labelFlush":false,"labelOverlap":false,"ticks":false,"domain":false,"grid":true,"gridColor":"black","gridWidth":1.5,"gridOpacity":1,"title":null}},
"y":{"field":"e","type":"quantitative","scale":{"domain":[-6,6],"nice":false},"axis":{"values":[-6,-5,-4,-3,-2,-1,0,1,2,3,4,5,6],"labelExpr":"datum.value%2==0?(datum.value<0?'-'+abs(datum.value):''+datum.value):''","labelFontSize":22,"labelColor":"black","labelPadding":5,"labelOverlap":false,"tickSize":-5,"tickColor":"black","tickWidth":1.5,"domain":false,"grid":false,"title":null}},
"detail":{"field":"b"}}},
{"data":{"name":"bd"},"mark":{"type":"line","interpolate":"monotone","color":"black","strokeWidth":2,"clip":true},"encoding":{"x":{"field":"k","type":"quantitative"},"y":{"field":"e","type":"quantitative"},"detail":{"field":"b"}}},
{"data":{"values":[{}]},"mark":{"type":"rule","color":"#ff0000","strokeWidth":2.5,"strokeDash":[11,4,3,4],"clip":false},"encoding":{"x":{"datum":0},"x2":{"datum":1.3},"y":{"datum":0}}},
{"data":{"values":[{}]},"mark":{"type":"text","text":"dn","fontSize":30,"font":"Liberation Sans","align":"center","baseline":"alphabetic","clip":false},"encoding":{"x":{"datum":0.743},"y":{"datum":1.38}}}
]},
{"width":3,"height":338,"view":{"stroke":null},"data":{"values":[{}]},"mark":{"type":"text","text":""},"encoding":{}},
{"width":204,"height":338,"view":{"stroke":"black","strokeWidth":2},"layer":[
{"data":{"name":"cn"},"mark":{"type":"line","interpolate":"monotone","color":"black","strokeWidth":2,"clip":true},
"encoding":{"x":{"field":"k","type":"quantitative","scale":{"domain":[0,1],"nice":false},"axis":{"values":[0,0.336,0.652,1],"labelExpr":"datum.value==0||datum.value==1?'Γ':datum.value<0.5?'M':'K'","labelFont":{"condition":{"test":"datum.value==0||datum.value==1","value":"Liberation Serif"},"value":"Liberation Sans"},"labelFontSize":29,"labelColor":"black","labelPadding":3,"labelFlush":false,"labelOverlap":false,"ticks":false,"domain":false,"grid":true,"gridColor":"black","gridWidth":1.5,"gridOpacity":1,"title":null}},
"y":{"field":"e","type":"quantitative","scale":{"domain":[-6,6],"nice":false},"axis":{"values":[-6,-5,-4,-3,-2,-1,0,1,2,3,4,5,6],"labelExpr":"datum.value%2==0?(datum.value<0?'-'+abs(datum.value):''+datum.value):''","labelFontSize":22,"labelColor":"black","labelPadding":5,"labelOverlap":false,"tickSize":-5,"tickColor":"black","tickWidth":1.5,"domain":false,"grid":false,"title":null}},
"detail":{"field":"b"}}},
{"data":{"name":"cu"},"mark":{"type":"line","interpolate":"monotone","color":"black","strokeWidth":2,"clip":true},"encoding":{"x":{"field":"k","type":"quantitative"},"y":{"field":"e","type":"quantitative"},"detail":{"field":"b"}}},
{"data":{"values":[{}]},"mark":{"type":"rule","color":"#ff0000","strokeWidth":2.5,"strokeDash":[11,4,3,4],"clip":false},"encoding":{"x":{"datum":0},"x2":{"datum":1.15},"y":{"datum":0}}},
{"data":{"values":[{}]},"mark":{"type":"text","text":"(c)","fontSize":30,"font":"Liberation Sans","align":"center","baseline":"alphabetic","clip":false},"encoding":{"x":{"datum":0.12},"y":{"datum":0.75}}},
{"data":{"values":[{}]},"mark":{"type":"text","text":"Si","fontSize":36,"font":"Liberation Sans","align":"center","baseline":"alphabetic","clip":false},"encoding":{"x":{"datum":0.434},"y":{"datum":1.42}}},
{"data":{"values":[{}]},"mark":{"type":"text","text":"B","fontSize":22,"font":"Liberation Sans","align":"center","baseline":"alphabetic","clip":false},"encoding":{"x":{"datum":0.569},"y":{"datum":0.82}}},
{"data":{"values":[{}]},"mark":{"type":"text","text":"up","fontSize":30,"font":"Liberation Sans","align":"center","baseline":"alphabetic","clip":false},"encoding":{"x":{"datum":0.762},"y":{"datum":1.46}}}
]},
{"width":204,"height":338,"view":{"stroke":"black","strokeWidth":2},"layer":[
{"data":{"name":"cn"},"mark":{"type":"line","interpolate":"monotone","color":"black","strokeWidth":2,"clip":true},
"encoding":{"x":{"field":"k","type":"quantitative","scale":{"domain":[0,1],"nice":false},"axis":{"values":[0,0.336,0.652,1],"labelExpr":"datum.value==0||datum.value==1?'Γ':datum.value<0.5?'M':'K'","labelFont":{"condition":{"test":"datum.value==0||datum.value==1","value":"Liberation Serif"},"value":"Liberation Sans"},"labelFontSize":29,"labelColor":"black","labelPadding":3,"labelFlush":false,"labelOverlap":false,"ticks":false,"domain":false,"grid":true,"gridColor":"black","gridWidth":1.5,"gridOpacity":1,"title":null}},
"y":{"field":"e","type":"quantitative","scale":{"domain":[-6,6],"nice":false},"axis":{"values":[-6,-5,-4,-3,-2,-1,0,1,2,3,4,5,6],"labelExpr":"datum.value%2==0?(datum.value<0?'-'+abs(datum.value):''+datum.value):''","labelFontSize":22,"labelColor":"black","labelPadding":5,"labelOverlap":false,"tickSize":-5,"tickColor":"black","tickWidth":1.5,"domain":false,"grid":false,"title":null}},
"detail":{"field":"b"}}},
{"data":{"name":"cd"},"mark":{"type":"line","interpolate":"monotone","color":"black","strokeWidth":2,"clip":true},"encoding":{"x":{"field":"k","type":"quantitative"},"y":{"field":"e","type":"quantitative"},"detail":{"field":"b"}}},
{"data":{"values":[{}]},"mark":{"type":"rule","color":"#ff0000","strokeWidth":2.5,"strokeDash":[11,4,3,4],"clip":false},"encoding":{"x":{"datum":0},"x2":{"datum":0.966},"y":{"datum":0}}},
{"data":{"values":[{}]},"mark":{"type":"text","text":"dn","fontSize":30,"font":"Liberation Sans","align":"center","baseline":"alphabetic","clip":false},"encoding":{"x":{"datum":0.725},"y":{"datum":1.78}}},
{"data":{"values":[{}]},"mark":{"type":"text","text":"E","fontSize":30,"font":"Liberation Sans","align":"center","baseline":"middle","clip":false},"encoding":{"x":{"datum":1.098},"y":{"datum":-0.03}}},
{"data":{"values":[{}]},"mark":{"type":"text","text":"F","fontSize":20,"font":"Liberation Sans","align":"center","baseline":"middle","clip":false},"encoding":{"x":{"datum":1.18},"y":{"datum":-0.57}}}
]}
]}
]
}
